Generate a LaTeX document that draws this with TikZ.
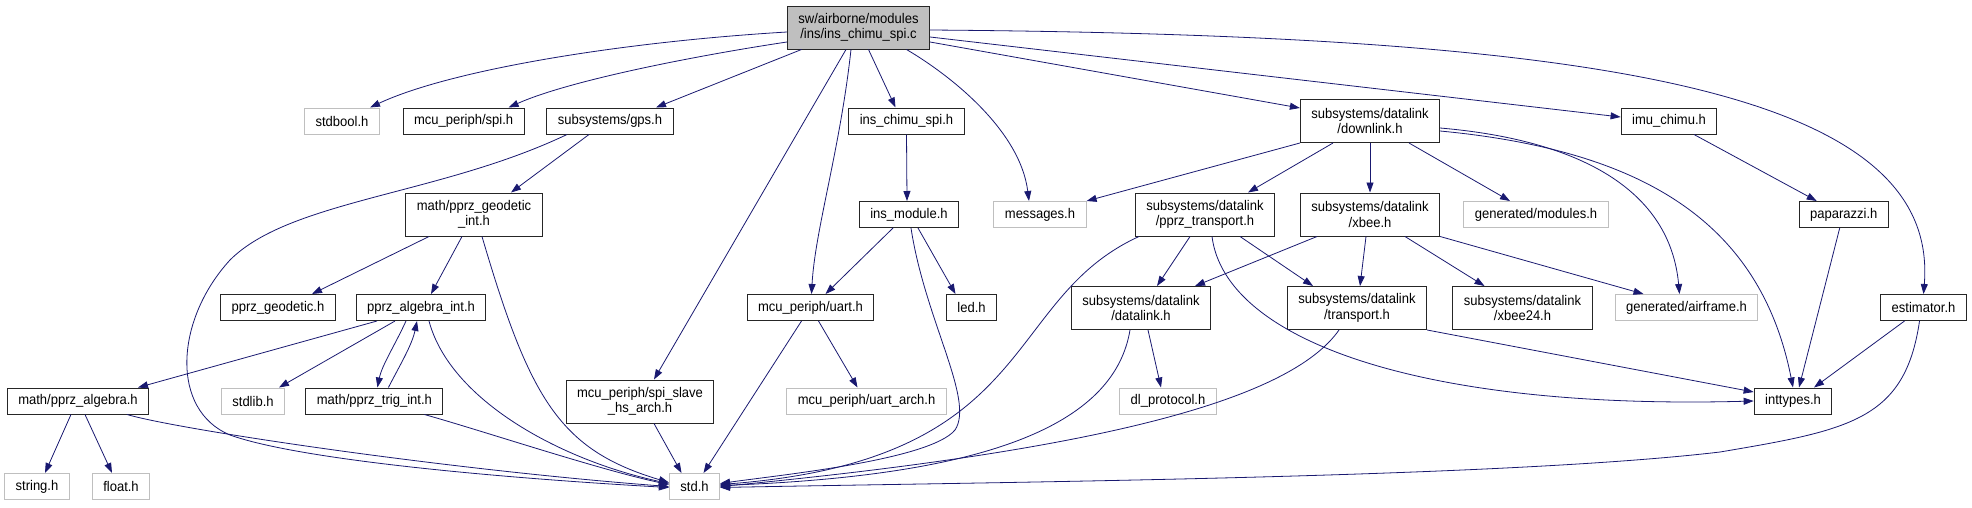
\documentclass[tikz,border=0pt]{standalone}
\usepackage{fontspec}
\setmainfont{Liberation Sans}[FakeStretch=0.93]
\usetikzlibrary{arrows.meta}
\definecolor{incl}{HTML}{191970}
\definecolor{undoc}{HTML}{BFBFBF}
\tikzset{
  hb/.style={draw=black!85, line width=1pt, inner xsep=11pt, inner ysep=6pt,
             minimum height=26pt, align=center, font=\fontsize{14}{15.5}\selectfont},
  gb/.style={hb, draw=undoc},
  rb/.style={hb, fill=undoc},
  two/.style={minimum height=43pt},
  ie/.style={-{Triangle[length=10pt, width=7pt]}, incl, line width=0.8pt},
}

\begin{document}
\begin{tikzpicture}[x=1pt, y=-1pt]
    \useasboundingbox (0,0) rectangle (1972,507);
    \node[rb, two] (root) at (858.5,27.5) {sw/airborne/modules\\/ins/ins\_chimu\_spi.c};
    \node[gb] (stdbool) at (342,121) {stdbool.h};
    \node[hb] (spi) at (463.6,121) {mcu\_periph/spi.h};
    \node[hb] (gps) at (610,121) {subsystems/gps.h};
    \node[hb] (chimuspi) at (906.5,121) {ins\_chimu\_spi.h};
    \node[hb, two] (downlink) at (1370,121) {subsystems/datalink\\/downlink.h};
    \node[hb] (imuchimu) at (1669,121) {imu\_chimu.h};
    \node[hb, two] (geoint) at (474,214.5) {math/pprz\_geodetic\\\_int.h};
    \node[hb] (insmod) at (909,214.5) {ins\_module.h};
    \node[gb] (messages) at (1040,214.5) {messages.h};
    \node[hb, two] (pprztrans) at (1205,214.5) {subsystems/datalink\\/pprz\_transport.h};
    \node[hb, two] (xbee) at (1370,214.5) {subsystems/datalink\\/xbee.h};
    \node[gb] (modules) at (1536,214.5) {generated/modules.h};
    \node[hb] (paparazzi) at (1843.7,214.5) {paparazzi.h};
    \node[hb] (geodetic) at (278,307.5) {pprz\_geodetic.h};
    \node[hb] (algint) at (421,307.5) {pprz\_algebra\_int.h};
    \node[hb] (uart) at (810.5,307.5) {mcu\_periph/uart.h};
    \node[hb] (led) at (971.5,307.5) {led.h};
    \node[hb, two] (datalink) at (1141,308) {subsystems/datalink\\/datalink.h};
    \node[hb, two] (transport) at (1357,308) {subsystems/datalink\\/transport.h};
    \node[hb, two] (xbee24) at (1522.5,308) {subsystems/datalink\\/xbee24.h};
    \node[gb] (airframe) at (1686.5,307.5) {generated/airframe.h};
    \node[hb] (estimator) at (1923.5,307.5) {estimator.h};
    \node[hb] (algebra) at (78,401) {math/pprz\_algebra.h};
    \node[gb] (stdlib) at (253,401) {stdlib.h};
    \node[hb] (trig) at (374.4,401) {math/pprz\_trig\_int.h};
    \node[hb, two] (spislave) at (640,401.5) {mcu\_periph/spi\_slave\\\_hs\_arch.h};
    \node[gb] (uartarch) at (866.5,401) {mcu\_periph/uart\_arch.h};
    \node[gb] (dlproto) at (1168,401) {dl\_protocol.h};
    \node[hb] (inttypes) at (1793,401) {inttypes.h};
    \node[gb] (string) at (37,486.5) {string.h};
    \node[gb] (float) at (121,486.5) {float.h};
    \node[gb] (std) at (694.5,486.5) {std.h};

    \draw[ie] ([yshift=-4.5pt]root.west) .. controls (620,42) and (450,70) .. ([xshift=28pt]stdbool.north);
    \draw[ie] ([yshift=-14.5pt]root.west) .. controls (700,55) and (570,80) .. ([xshift=45pt]spi.north);
    \draw[ie] ([xshift=-57pt]root.south) -- ([xshift=46pt]gps.north);
    \draw[ie] ([xshift=-12.5pt]root.south) -- ([xshift=14pt]spislave.north);
    \draw[ie] ([xshift=-7.5pt]root.south) .. controls (840,150) and (815,230) .. ([xshift=1pt]uart.north);
    \draw[ie] ([xshift=10pt]root.south) -- ([xshift=-11pt]chimuspi.north);
    \draw[ie] ([xshift=48pt]root.south) .. controls (950,75) and (1020,130) .. ([xshift=-11pt]messages.north);
    \draw[ie] ([yshift=-14.5pt]root.east) -- ([yshift=13pt]downlink.west);
    \draw[ie] ([yshift=-9.5pt]root.east) -- ([yshift=4pt]imuchimu.west);
    \draw[ie] ([yshift=-2.5pt]root.east) .. controls (1600,35) and (1940,90) .. (estimator.north);

    \draw[ie] ([xshift=-21pt]gps.south) -- ([xshift=37pt]geoint.north);
    \draw[ie] ([xshift=-43pt]gps.south) .. controls (440,195) and (290,200) .. (230,260)
        .. controls (175,320) and (170,410) .. (230,435) .. controls (300,460) and (500,478) .. ([yshift=-1pt]std.west);
    \draw[ie] ([xshift=-45pt]geoint.south) -- ([xshift=34pt]geodetic.north);
    \draw[ie] ([xshift=-12pt]geoint.south) -- ([xshift=10pt]algint.north);
    \draw[ie] ([xshift=8pt]geoint.south) .. controls (530,400) and (560,450) .. ([yshift=4pt]std.west);
    \draw[ie] ([xshift=-44pt]algint.south) -- ([xshift=60pt]algebra.north);
    \draw[ie] ([xshift=-26pt]algint.south) -- ([xshift=26pt]stdlib.north);
    \draw[ie] ([xshift=-15pt]algint.south) .. controls (395,345) and (382,365) .. ([xshift=3pt]trig.north);
    \draw[ie] ([xshift=14pt]trig.north) .. controls (400,365) and (412,345) .. ([xshift=-4pt]algint.south);
    \draw[ie] ([xshift=8pt]algint.south) .. controls (450,400) and (560,460) .. ([yshift=3pt]std.west);
    \draw[ie] ([xshift=50pt]trig.south) .. controls (480,430) and (600,470) .. ([yshift=2pt]std.west);
    \draw[ie] ([xshift=-7pt]algebra.south) -- ([xshift=8pt]string.north);
    \draw[ie] ([xshift=7pt]algebra.south) -- ([xshift=-9pt]float.north);
    \draw[ie] ([xshift=49pt]algebra.south) .. controls (180,430) and (450,470) .. (std.west);
    \draw[ie] ([xshift=14pt]spislave.south) -- ([xshift=-13pt]std.north);

    \draw[ie] (chimuspi.south) -- ([xshift=-2pt]insmod.north);
    \draw[ie] ([xshift=-16pt]insmod.south) -- ([xshift=15pt]uart.north);
    \draw[ie] ([xshift=9pt]insmod.south) -- ([xshift=-16pt]led.north);
    \draw[ie] ([xshift=2pt]insmod.south) .. controls (925,320) and (975,400) .. (955,430)
        .. controls (930,460) and (780,475) .. ([yshift=3pt]std.east);
    \draw[ie] ([xshift=-9pt]uart.south) -- ([xshift=9pt]std.north);
    \draw[ie] ([xshift=8pt]uart.south) -- ([xshift=-9pt]uartarch.north);

    \draw[ie] (downlink.south west) -- (messages.north east);
    \draw[ie] ([xshift=-37pt]downlink.south) -- ([xshift=43pt]pprztrans.north);
    \draw[ie] (downlink.south) -- (xbee.north);
    \draw[ie] ([xshift=39pt]downlink.south) -- ([xshift=-26pt]modules.north);
    \draw[ie] ([yshift=-7pt]downlink.east) .. controls (1580,140) and (1670,190) .. ([xshift=-7pt]airframe.north);
    \draw[ie] ([yshift=-10pt]downlink.east) .. controls (1640,150) and (1760,220) .. (inttypes.north);
    \draw[ie] ([xshift=-66pt]pprztrans.south) .. controls (1000,300) and (1040,460) .. ([yshift=2pt]std.east);
    \draw[ie] ([xshift=-15pt]pprztrans.south) -- ([xshift=16pt]datalink.north);
    \draw[ie] ([xshift=7pt]pprztrans.south) .. controls (1225,340) and (1420,410) .. (inttypes.west);
    \draw[ie] ([xshift=35pt]pprztrans.south) -- ([xshift=-44pt]transport.north);
    \draw[ie] ([xshift=-53pt]xbee.south) -- ([xshift=54pt]datalink.north);
    \draw[ie] ([xshift=-4pt]xbee.south) -- ([xshift=3pt]transport.north);
    \draw[ie] ([xshift=35pt]xbee.south) -- ([xshift=-38pt]xbee24.north);
    \draw[ie] (xbee.south east) -- ([xshift=-43pt]airframe.north);
    \draw[ie] ([xshift=-11pt]datalink.south) .. controls (1115,420) and (1000,475) .. ([yshift=1pt]std.east);
    \draw[ie] ([xshift=7pt]datalink.south) -- ([xshift=-7pt]dlproto.north);
    \draw[ie] ([xshift=-18pt]transport.south) .. controls (1290,400) and (1100,450) .. (std.east);
    \draw[ie] (transport.south east) -- ([yshift=9pt]inttypes.west);

    \draw[ie] ([xshift=25pt]imuchimu.south) -- ([xshift=-27pt]paparazzi.north);
    \draw[ie] ([xshift=-4pt]paparazzi.south) -- ([xshift=6pt]inttypes.north);
    \draw[ie] ([xshift=-19pt]estimator.south) -- ([xshift=21pt]inttypes.north);
    \draw[ie] ([xshift=-4pt]estimator.south) .. controls (1905,420) and (1850,430) .. (1720,452)
        .. controls (1500,478) and (1000,482) .. ([yshift=-1pt]std.east);
\end{tikzpicture}
\end{document}
